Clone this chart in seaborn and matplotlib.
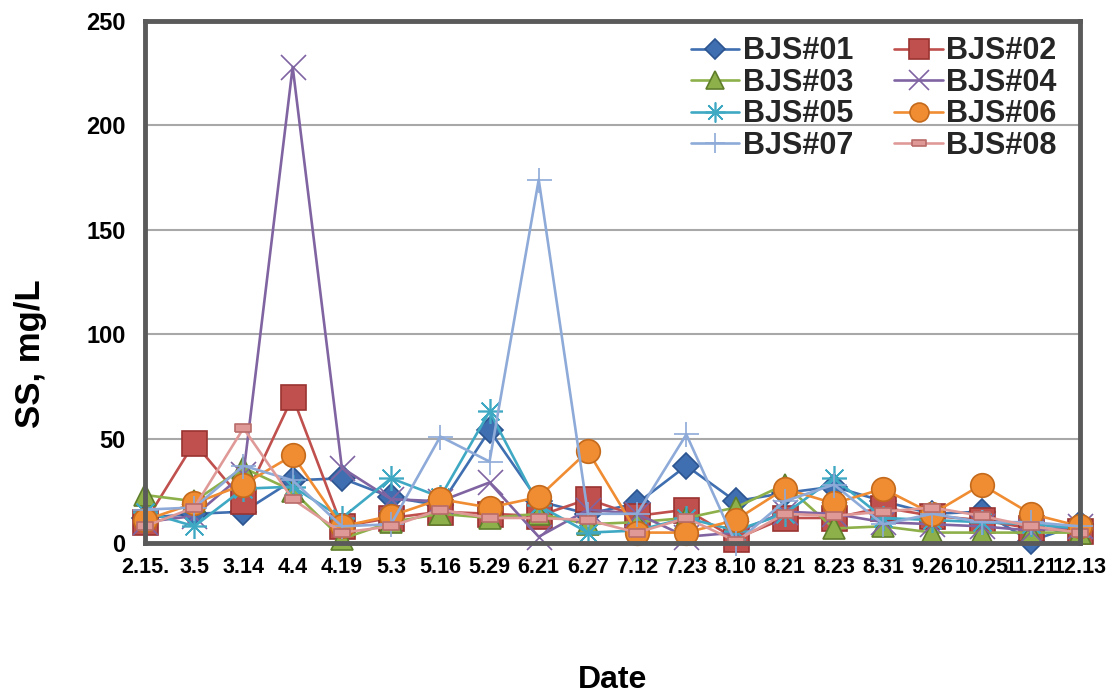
import numpy as np
import pandas as pd
import seaborn as sns
import matplotlib
matplotlib.use("Agg")
import matplotlib.pyplot as plt

dates = ["2.15.", "3.5", "3.14", "4.4", "4.19", "5.3", "5.16", "5.29", "6.21", "6.27",
         "7.12", "7.23", "8.10", "8.21", "8.23", "8.31", "9.26", "10.25", "11.21", "12.13"]

sites = ["BJS#01", "BJS#02", "BJS#03", "BJS#04", "BJS#05", "BJS#06", "BJS#07", "BJS#08"]

bjs01 = [12, 14, 15, 30, 31, 22, 18, 54, 20, 14, 19, 37, 20, 24, 27, 20, 14, 15, 1, 9]
bjs02 = [10, 48, 20, 70, 8, 12, 15, 14, 13, 21, 13, 16, 2, 12, 12, 17, 13, 11, 7, 6]
bjs03 = [23, 20, 36, 25, 2, 10, 14, 12, 14, 9, 10, 12, 17, 28, 7, 8, 5, 5, 5, 5]
bjs04 = [10, 13, 33, 228, 36, 21, 20, 29, 3, 16, 14, 3, 5, 15, 14, 10, 9, 8, 6, 8]
bjs05 = [15, 8, 26, 27, 12, 31, 22, 63, 18, 5, 6, 12, 6, 14, 31, 12, 11, 10, 9, 7]
bjs06 = [11, 19, 28, 42, 8, 13, 21, 17, 22, 44, 5, 5, 11, 26, 19, 26, 14, 28, 14, 8]
bjs07 = [16, 17, 37, 30, 8, 9, 51, 39, 174, 14, 14, 52, 0, 20, 28, 9, 14, 10, 10, 8]
bjs08 = [8, 17, 55, 21, 5, 8, 16, 12, 12, 11, 5, 12, 1, 14, 13, 15, 17, 13, 8, 5]

series = [bjs01, bjs02, bjs03, bjs04, bjs05, bjs06, bjs07, bjs08]

colors = ["#3f6fb0", "#c0504d", "#8db04a", "#8064a2", "#3fa9c4", "#f08c32", "#8eaad8", "#df9a98"]
edge_colors = ["#2c5590", "#9a3431", "#5f7e2c", "#8064a2", "#3fa9c4", "#c46a1c", "#8eaad8", "#b86c6a"]
rect = [(-1.0, -0.5), (1.0, -0.5), (1.0, 0.5), (-1.0, 0.5), (-1.0, -0.5)]
markers = ["D", "s", "^", "x", (8, 2, 0), "o", "+", rect]
marker_sizes = [13, 18, 16, 18, 18, 17, 18, 12]

tick_font = ["Liberation Sans", "DejaVu Sans"]
label_font = ["Liberation Sans", "DejaVu Sans"]

sns.set_theme(style="white")

fig = plt.figure(figsize=(11.14, 6.97), dpi=100)
ax = fig.add_axes([0.1302, 0.2209, 0.8393, 0.749])

pos = np.arange(len(dates))
for name, vals, c, ec, m, ms in zip(sites, series, colors, edge_colors, markers, marker_sizes):
    df = pd.DataFrame({"pos": pos, "SS": vals})
    sns.lineplot(data=df, x="pos", y="SS", ax=ax, color=c, marker=m, markersize=ms,
                 markeredgecolor=ec, markeredgewidth=1.2, linewidth=1.9,
                 label=name, clip_on=False)

ax.set_xlim(0, len(dates) - 1)
ax.set_ylim(0, 250)
ax.set_yticks(np.arange(0, 251, 50))
ax.set_xticks(pos)
ax.set_xticklabels(dates)
ax.yaxis.grid(True, color="#a8a8a8", linewidth=1.5)
ax.xaxis.grid(False)
ax.set_axisbelow(True)

for sp in ax.spines.values():
    sp.set_visible(True)
    sp.set_color("#5a5a5a")
    sp.set_linewidth(3.5)

ax.tick_params(axis="both", length=0)
ax.tick_params(axis="y", pad=14)
ax.tick_params(axis="x", pad=10)
for lab in ax.get_yticklabels():
    lab.set_fontfamily(tick_font)
    lab.set_fontweight("bold")
    lab.set_fontsize(17)
    lab.set_color("black")
for lab in ax.get_xticklabels():
    lab.set_fontfamily(tick_font)
    lab.set_fontweight("bold")
    lab.set_fontsize(15.5)
    lab.set_color("black")

ax.set_xlabel("Date", fontsize=23, fontweight="bold", family=label_font, color="black")
ax.set_ylabel("SS, mg/L", fontsize=25, fontweight="bold", family=label_font, color="black")
ax.xaxis.set_label_coords(0.5, -0.234)
ax.yaxis.set_label_coords(-0.105, 0.362)

# row-wise legend: 01 02 / 03 04 / 05 06 / 07 08
handles, labels = ax.get_legend_handles_labels()
order = [0, 2, 4, 6, 1, 3, 5, 7]
ax.legend([handles[i] for i in order], [labels[i] for i in order],
          ncol=2, loc="upper right", frameon=False, markerscale=0.8,
          prop={"weight": "bold", "size": 22, "family": label_font},
          handlelength=1.6, handletextpad=0.1, columnspacing=1.35, labelspacing=0.05,
          borderaxespad=0.0, bbox_to_anchor=(0.988, 0.994))

fig.savefig("out.png", dpi=100, facecolor="white")
